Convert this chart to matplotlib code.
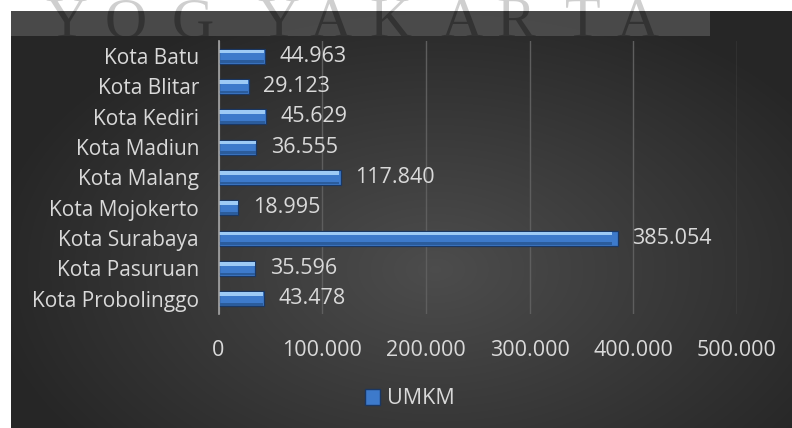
import numpy as np
import matplotlib
matplotlib.use("Agg")
import matplotlib.pyplot as plt
from matplotlib.patches import Rectangle

categories = ["Kota Batu", "Kota Blitar", "Kota Kediri", "Kota Madiun", "Kota Malang",
              "Kota Mojokerto", "Kota Surabaya", "Kota Pasuruan", "Kota Probolinggo"]
values = [44963, 29123, 45629, 36555, 117840, 18995, 385054, 35596, 43478]
value_labels = ["44.963", "29.123", "45.629", "36.555", "117.840", "18.995", "385.054", "35.596", "43.478"]
xticks = [0, 100000, 200000, 300000, 400000, 500000]
xtick_labels = ["0", "100.000", "200.000", "300.000", "400.000", "500.000"]
series_name = "UMKM"
watermark = list("YOGYAKARTA")
wm_x = [66, 126, 193, 278, 330, 390, 461, 516, 583, 637]

W, H = 792, 428
FONT = "Open Sans"
TXT = "#d9d9d9"
FS_CAT = 15
FS_NUM = 15.5

fig = plt.figure(figsize=(W / 100, H / 100), dpi=100, facecolor="white")

# background axes in pixel coords
bg = fig.add_axes([0, 0, 1, 1])
bg.set_xlim(0, W)
bg.set_ylim(H, 0)
bg.axis("off")
bg.set_zorder(0)

# radial gradient background
yy, xx = np.mgrid[0:H, 0:W]
cx, cy = 430, 265
r = np.sqrt(((xx - cx) / 520.0) ** 2 + ((yy - cy) / 330.0) ** 2)
g = np.clip(0.30 - 0.17 * r, 0.15, 0.30)
img = np.dstack([g, g, g])
bg.imshow(img, extent=(11, W, H, 11), origin="upper", aspect="auto", zorder=0)

WM_KW = dict(fontsize=42, family="Liberation Serif", ha="center", va="baseline", clip_on=True)
# watermark letters (light on white)
for ch, x in zip(watermark, wm_x):
    t = bg.text(x, 37, ch, color="#cfcfcf", zorder=1, **WM_KW)
    t.set_clip_path(Rectangle((0, -20), W, 31, transform=bg.transData))
band = Rectangle((11, 11), 699, 25, facecolor="#585858", edgecolor="none", alpha=0.7, zorder=2)
bg.add_patch(band)
for ch, x in zip(watermark, wm_x):
    t = bg.text(x, 37, ch, color="#333333", zorder=3, **WM_KW)
    t.set_clip_path(Rectangle((11, 11), 699, 25, transform=bg.transData))
# white cover for left strip
bg.add_patch(Rectangle((0, 0), 11, H, facecolor="white", edgecolor="none", zorder=4))

# main axes
left, right, top, bottom = 218.5, 737, 41, 314
ax = fig.add_axes([left / W, 1 - bottom / H, (right - left) / W, (bottom - top) / H])
ax.set_zorder(5)
ax.patch.set_alpha(0)

n = len(categories)
ypos = np.arange(n)
h = 0.5
ax.barh(ypos, values, height=h, color="#3d7acb", edgecolor="#1a3763", linewidth=0.9, zorder=3)
ax.barh(ypos - h * 0.30, [v * 0.985 for v in values], height=h * 0.24, color="#9dcaf5",
        edgecolor="none", zorder=4)
ax.barh(ypos + h * 0.36, [v * 0.985 for v in values], height=h * 0.16, color="#2b5c9c",
        edgecolor="none", zorder=4)

for y, v, lab in zip(ypos, values, value_labels):
    ax.annotate(lab, xy=(v, y), xytext=(10.5, 0), textcoords="offset points",
                ha="left", va="center", color=TXT, fontsize=FS_NUM, family=FONT, zorder=6)

ax.set_xlim(0, 500000)
ax.set_ylim(n - 0.5, -0.5)
ax.set_yticks(ypos)
ax.set_yticklabels(categories, family=FONT, fontsize=FS_CAT, color=TXT)
ax.set_xticks(xticks)
ax.set_xticklabels(xtick_labels, family=FONT, fontsize=FS_NUM, color=TXT)
ax.tick_params(axis="both", length=0)
ax.tick_params(axis="x", pad=19)
ax.tick_params(axis="y", pad=14)
ax.grid(axis="x", color="#5e5e5e", linewidth=1.0, zorder=0)
for s in ["top", "right", "bottom"]:
    ax.spines[s].set_visible(False)
ax.spines["left"].set_color("#a6a6a6")
ax.spines["left"].set_linewidth(1.2)
ax.spines["left"].set_zorder(5)

handle = Rectangle((0, 0), 1, 1, facecolor="#3d7acb", edgecolor="#1a3763")
fig.legend([handle], [series_name], loc="center", bbox_to_anchor=(410 / W, 1 - 399 / H),
           frameon=False, handlelength=0.7, handleheight=0.7, handletextpad=0.3,
           prop={"family": FONT, "size": FS_NUM}, labelcolor=TXT)

fig.savefig("out.png", dpi=100, facecolor="white")
